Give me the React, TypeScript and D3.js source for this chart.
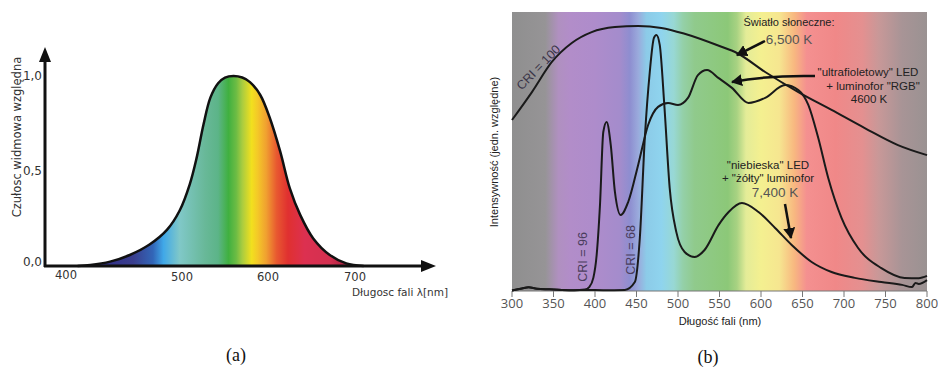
import React from 'react'
import * as d3 from 'd3'

// (a) relative spectral sensitivity of the eye
const sensNm = [410, 421, 438, 455, 472, 487, 498, 509, 517, 525, 533, 542, 550, 560, 570, 579, 591, 602, 614, 625, 637, 652, 671, 690, 710]
const sensVal = [0, 0.005, 0.023, 0.058, 0.113, 0.19, 0.292, 0.43, 0.569, 0.745, 0.886, 0.962, 0.992, 1.0, 0.992, 0.968, 0.9, 0.78, 0.603, 0.41, 0.269, 0.145, 0.058, 0.014, 0]
const leftXTicks = [400, 500, 600, 700]
const leftYTicks = [0, 0.5, 1]
const leftYLabels = ['0,0', '0,5', '1,0']
const sensStopNm = [440, 458, 475, 484, 498, 512, 527, 542, 554, 563, 570, 581, 588, 598, 610, 623, 642, 671, 690]
const sensStopCol = ['#34348a', '#3a3e8e', '#3266b8', '#40a8e8', '#80c8c8', '#74c0b0', '#68b898', '#5cb488', '#40b040', '#6cbc44', '#a8cc40', '#f2e01e', '#f4c828', '#f0a030', '#e85830', '#e03030', '#dc3050', '#d43050', '#a82040']

// (b) spectra of light sources
const sunNm = [300, 324, 348, 372, 396, 424, 452, 480, 508, 550, 571, 605, 645, 685, 725, 765, 800]
const sunVal = [61.3, 71.3, 82.1, 88.9, 92.8, 94.6, 95.0, 94.3, 92.2, 87.8, 85.3, 78.5, 71.3, 64.9, 58.4, 52.3, 48.7]
const uvNm = [300, 312, 320, 330, 345, 360, 375, 388, 393, 398, 402, 406, 410, 414, 419, 424, 431, 440, 452, 464, 476, 488, 500, 512, 524, 535, 549, 565, 585, 605, 629, 645, 657, 669, 681, 697, 717, 745, 773, 790, 800]
const uvVal = [0.2, 0.9, 1.3, 0.8, 0.6, 0.4, 0.3, 0.5, 1.4, 4.7, 12.9, 30.8, 57, 60.6, 52.3, 35.5, 27.2, 31.9, 45.2, 59.5, 66, 67.4, 66.7, 69.2, 77.4, 79.2, 76.3, 72.8, 67.4, 69.2, 73.8, 72, 66.7, 54.8, 40.5, 26.2, 15.4, 8.2, 4.7, 4.6, 5.4]
const blueNm = [300, 312, 320, 330, 345, 360, 375, 390, 410, 436, 448, 454, 460, 466, 471, 474, 478, 483.5, 490, 498, 508, 520, 532, 549, 561, 577, 597, 617, 637, 661, 685, 713, 745, 770, 782, 786, 790, 800]
const blueVal = [0.2, 0.9, 1.3, 0.8, 0.6, 0.4, 0.3, 0.4, 0.3, 0.4, 3.2, 19, 54.8, 78.5, 90.7, 91.8, 88.2, 66.7, 36.9, 21.1, 14, 12.2, 14.7, 23.7, 28.3, 31.5, 28.3, 22.6, 16.5, 10.4, 6.8, 4.7, 3.2, 2.2, 1.4, 2.9, 2.5, 3.9]
const rightXTicks = [300, 350, 400, 450, 500, 550, 600, 650, 700, 750, 800]
const bgStopNm = [300, 340, 356, 370, 400, 430, 442, 452, 462, 480, 495, 506, 520, 560, 571, 582, 600, 622, 640, 655, 690, 722, 742, 770, 800]
const bgStopCol = ['#8f8f8f', '#969496', '#b090c0', '#b28dc9', '#ae8ccb', '#a48ccc', '#8e8ed0', '#9aaadc', '#8ccbe8', '#8fd4ee', '#98d8d4', '#94d0a8', '#90ca8c', '#8cc878', '#a8d282', '#e4ec98', '#f4f090', '#f6e690', '#f8b880', '#f49090', '#f08888', '#e49090', '#c89898', '#a89496', '#9a9292']

const zip = (a: number[], b: number[]) => a.map((v, i) => [v, b[i]] as [number, number])

export default function App() {
  const xL = d3.scaleLinear().domain(leftXTicks).range([66, 182, 268, 355])
  const yL = d3.scaleLinear().domain([0, 1]).range([266, 76])
  const xR = d3.scaleLinear().domain([300, 800]).range([512, 927])
  const yR = d3.scaleLinear().domain([0, 100]).range([291, 12])

  const sensArea = d3.area<[number, number]>()
    .x((d) => xL(d[0]))
    .y0(yL(0))
    .y1((d) => Math.min(yL(0), yL(d[1])))
    .curve(d3.curveCatmullRom.alpha(0.5))
  const sensLine = d3.line<[number, number]>()
    .x((d) => xL(d[0]))
    .y((d) => yL(d[1]))
    .curve(d3.curveCatmullRom.alpha(0.5))
  const lineR = d3.line<[number, number]>()
    .x((d) => xR(d[0]))
    .y((d) => yR(d[1]))
    .curve(d3.curveMonotoneX)

  const fontL = 'DejaVu Sans, Verdana, sans-serif'
  const fontR = 'Liberation Sans, Arial, sans-serif'

  return (
    <svg width={938} height={374} style={{position: 'absolute', left: 0, top: 0, background: '#fff'}}>
      <defs>
        <linearGradient id="specA" gradientUnits="userSpaceOnUse" x1={0} x2={938} y1={0} y2={0}>
          {sensStopNm.map((nm, i) => (
            <stop key={i} offset={xL(nm) / 938} stopColor={sensStopCol[i]} />
          ))}
        </linearGradient>
        <linearGradient id="specB" gradientUnits="userSpaceOnUse" x1={0} x2={938} y1={0} y2={0}>
          {bgStopNm.map((nm, i) => (
            <stop key={i} offset={xR(nm) / 938} stopColor={bgStopCol[i]} />
          ))}
        </linearGradient>
        <marker id="arr" markerUnits="userSpaceOnUse" markerWidth={12} markerHeight={12} refX={10} refY={6} orient="auto">
          <path d="M0,0 L11,6 L0,12 Z" fill="#111" />
        </marker>
      </defs>

      {/* ---- (a) ---- */}
      <path d={sensArea(zip(sensNm, sensVal)) || ''} fill="url(#specA)" />
      <path d={sensLine(zip(sensNm, sensVal)) || ''} fill="none" stroke="#111" strokeWidth={2.5} />
      <line x1={45} x2={45} y1={267} y2={60} stroke="#111" strokeWidth={3} />
      <path d="M45,47 L39,62 L51,62 Z" fill="#111" />
      <line x1={44} x2={424} y1={266} y2={266} stroke="#111" strokeWidth={3} />
      <path d="M436,266 L421,260 L421,272 Z" fill="#111" />
      {leftYTicks.map((t, i) => (
        <text key={t} x={42} y={yL(t) - (t === 0 ? 4 : 0)} textAnchor="end" dominantBaseline="middle"
          fontFamily={fontL} fontSize={12} fill="#333">{leftYLabels[i]}</text>
      ))}
      {leftXTicks.map((t) => (
        <text key={t} x={xL(t)} y={t === 400 ? 275 : 277} textAnchor="middle" dominantBaseline="middle"
          fontFamily={fontL} fontSize={11.5} fill="#333">{t}</text>
      ))}
      <text transform="translate(17,137) rotate(-90)" textAnchor="middle" dominantBaseline="middle"
        fontFamily={fontL} fontSize={11.5} fill="#333">Czułosc widmowa względna</text>
      <text x={448} y={293} textAnchor="end" dominantBaseline="middle" fontFamily={fontL} fontSize={10.5} fill="#333">
        Długosc fali λ[nm]
      </text>
      <text x={236} y={357} textAnchor="middle" dominantBaseline="middle" fontFamily="Liberation Serif, Times New Roman, serif"
        fontSize={18} fill="#111">(a)</text>

      {/* ---- (b) ---- */}
      <rect x={xR(300)} y={yR(100)} width={xR(800) - xR(300)} height={yR(0) - yR(100)} fill="url(#specB)" />
      <line x1={xR(300)} x2={xR(800)} y1={yR(0)} y2={yR(0)} stroke="#777" strokeWidth={1} />
      {rightXTicks.map((t) => (
        <g key={t}>
          <line x1={xR(t)} x2={xR(t)} y1={yR(0)} y2={yR(0) + 6} stroke="#777" strokeWidth={1} />
          <text x={xR(t)} y={305} textAnchor="middle" dominantBaseline="middle" fontFamily="Open Sans, sans-serif"
            fontSize={13} fill="#555">{t}</text>
        </g>
      ))}
      <path d={lineR(zip(sunNm, sunVal)) || ''} fill="none" stroke="#1a1a1a" strokeWidth={2} />
      <path d={lineR(zip(uvNm, uvVal)) || ''} fill="none" stroke="#1a1a1a" strokeWidth={2} />
      <path d={lineR(zip(blueNm, blueVal)) || ''} fill="none" stroke="#1a1a1a" strokeWidth={2} />

      <text transform="translate(539,68) rotate(-46)" textAnchor="middle" dominantBaseline="middle"
        fontFamily={fontR} fontSize={12.5} fill="#3a3548">CRI = 100</text>
      <text transform="translate(584,257) rotate(-90)" textAnchor="middle" dominantBaseline="middle"
        fontFamily={fontR} fontSize={12.5} fill="#4a3d5c">CRI = 96</text>
      <text transform="translate(632,250) rotate(-90)" textAnchor="middle" dominantBaseline="middle"
        fontFamily={fontR} fontSize={12.5} fill="#4a3d5c">CRI = 68</text>

      <text x={789} y={23} textAnchor="middle" dominantBaseline="middle" fontFamily={fontR} fontSize={11} fill="#222">Światło słoneczne:</text>
      <text x={789} y={40} textAnchor="middle" dominantBaseline="middle" fontFamily={fontR} fontSize={13.5} fill="#555">6,500 K</text>
      <line x1={765} y1={41} x2={xR(571)} y2={yR(85.3) + 2} stroke="#111" strokeWidth={2.5} markerEnd="url(#arr)" />

      <text x={868} y={73} textAnchor="middle" dominantBaseline="middle" fontFamily={fontR} fontSize={11.5} fill="#222">"ultrafioletowy" LED</text>
      <text x={873} y={87} textAnchor="middle" dominantBaseline="middle" fontFamily={fontR} fontSize={11.5} fill="#222">+ luminofor "RGB"</text>
      <text x={869} y={100} textAnchor="middle" dominantBaseline="middle" fontFamily={fontR} fontSize={11.5} fill="#222">4600 K</text>
      <path d="M815,76 Q770,75 732,82" fill="none" stroke="#111" strokeWidth={2.5} markerEnd="url(#arr)" />

      <text x={768} y={166} textAnchor="middle" dominantBaseline="middle" fontFamily={fontR} fontSize={11.5} fill="#222">"niebieska" LED</text>
      <text x={768} y={179} textAnchor="middle" dominantBaseline="middle" fontFamily={fontR} fontSize={11.5} fill="#222">+ "żółty" luminofor</text>
      <text x={775} y={193} textAnchor="middle" dominantBaseline="middle" fontFamily={fontR} fontSize={13.5} fill="#555">7,400 K</text>
      <line x1={785} y1={204} x2={791} y2={238} stroke="#111" strokeWidth={2.5} markerEnd="url(#arr)" />

      <text transform="translate(495,152) rotate(-90)" textAnchor="middle" dominantBaseline="middle"
        fontFamily={fontR} fontSize={11} fill="#222">Intensywność (jedn. względne)</text>
      <text x={720} y={322} textAnchor="middle" dominantBaseline="middle" fontFamily={fontR} fontSize={11} fill="#222">
        Długość fali  (nm)
      </text>
      <text x={708} y={359} textAnchor="middle" dominantBaseline="middle" fontFamily="Liberation Serif, Times New Roman, serif"
        fontSize={18} fill="#111">(b)</text>
    </svg>
  )
}
